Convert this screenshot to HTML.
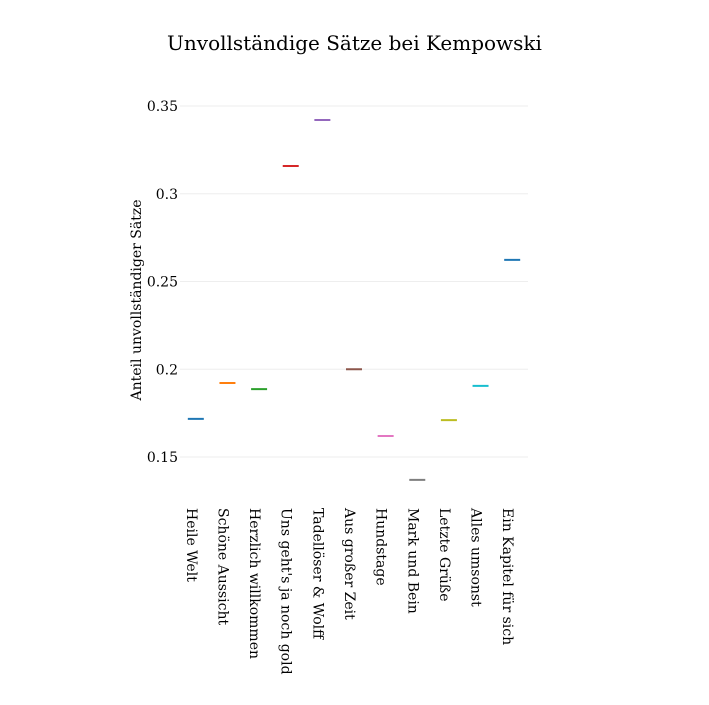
<!DOCTYPE html>
<html><head><meta charset="utf-8"><style>
body{margin:0;background:#fff;}
svg{font-family:"DejaVu Serif","Liberation Serif",serif;}
</style></head><body>
<svg id="chart" width="709" height="700">
<text x="354.5" y="50" text-anchor="middle" font-size="20">Unvollständige Sätze bei Kempowski</text>
<text transform="translate(141,300) rotate(-90)" text-anchor="middle" font-size="14">Anteil unvollständiger Sätze</text>
<g id="grid"></g><g id="yt"></g><g id="marks"></g><g id="xt"></g>
</svg>
<script>
const categories=["Heile Welt","Schöne Aussicht","Herzlich willkommen","Uns geht's ja noch gold","Tadellöser & Wolff","Aus großer Zeit","Hundstage","Mark und Bein","Letzte Grüße","Alles umsonst","Ein Kapitel für sich"];
const values=[0.1717,0.1922,0.1887,0.3158,0.342,0.2,0.162,0.137,0.171,0.1905,0.2623];
const colors=["#1f77b4","#ff7f0e","#2ca02c","#d62728","#9467bd","#8c564b","#e377c2","#7f7f7f","#bcbd22","#17becf","#1f77b4"];
const yTicks=[0.15,0.2,0.25,0.3,0.35];
const yTickLabels=["0.15","0.2","0.25","0.3","0.35"];
const NS="http://www.w3.org/2000/svg";
const x0=180,x1=528;
const step=(x1-x0)/categories.length;
const xs=i=>x0+step*(i+0.5);
const ys=v=>106+(0.35-v)*1755;
function mk(t,a,p){const e=document.createElementNS(NS,t);for(const k in a)e.setAttribute(k,a[k]);document.getElementById(p).appendChild(e);return e;}
yTicks.forEach((t,i)=>{
 const g=mk('line',{x1:x0,x2:x1,y1:ys(t),y2:ys(t),stroke:'#eee','stroke-width':1},'grid');
 
 
 const l=mk('text',{x:178,y:ys(t)+5,'text-anchor':'end','font-size':14},'yt');
 l.textContent=yTickLabels[i];
 
 
});
categories.forEach((c,i)=>{
 const m=mk('line',{x1:xs(i)-8,x2:xs(i)+8,y1:ys(values[i]),y2:ys(values[i]),stroke:colors[i],'stroke-width':2},'marks');
 
 
 const t=mk('text',{transform:`translate(${xs(i)-9},508) rotate(90)`,'font-size':14},'xt');
 t.textContent=c;
 
 
});
</script>
</body></html>
